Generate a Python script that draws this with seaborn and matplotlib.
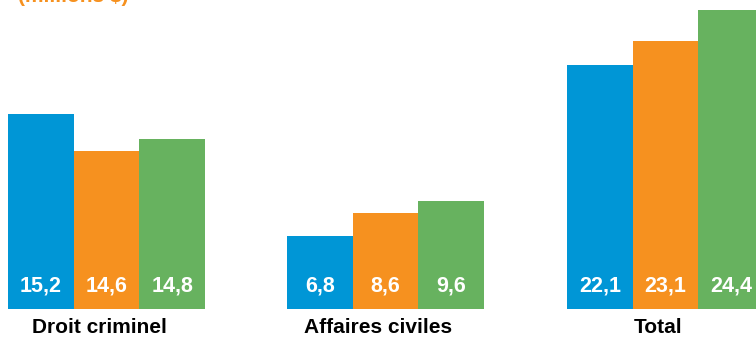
import matplotlib
matplotlib.use("Agg")
import matplotlib.pyplot as plt
import matplotlib.transforms as mtransforms
import pandas as pd
import seaborn as sns

# Data (millions $)
categories = ["Droit criminel", "Affaires civiles", "Total"]
series = ["année 1", "année 2", "année 3"]
values = {
    "Droit criminel": [15.2, 14.6, 14.8],
    "Affaires civiles": [6.8, 8.6, 9.6],
    "Total": [22.1, 23.1, 24.4],
}
unit_label = "(millions $)"

# Styling / layout
colors = ["#0096D6", "#F6911F", "#67B25F"]
W, H = 756, 337
group_left_px = [8, 287, 567]
bar_px = 65.7
baseline_px = 308.5
# value range shown on each panel's vertical axis
panel_ylims = [(12.03, 17.07), (0.995, 25.69), (11.87, 24.83)]

sns.set_theme(style="white")
plt.rcParams["font.family"] = ["Liberation Sans", "DejaVu Sans"]

fig = plt.figure(figsize=(W / 100, H / 100), dpi=100)
fig.patch.set_facecolor("white")

for i, cat in enumerate(categories):
    left = group_left_px[i] / W
    width = 3 * bar_px / W
    bottom = (H - baseline_px) / H
    ax = fig.add_axes([left, bottom, width, 1 - bottom])
    df = pd.DataFrame({"serie": series, "valeur": values[cat]})
    sns.barplot(data=df, x="serie", y="valeur", hue="serie", palette=colors,
                width=1.0, saturation=1, legend=False, ax=ax, linewidth=0)
    ax.set_xlim(-0.5, 2.5)
    ax.set_ylim(*panel_ylims[i])
    ax.set_axis_off()

    trans = mtransforms.blended_transform_factory(ax.transData, fig.transFigure)
    for j, v in enumerate(values[cat]):
        ax.text(j, (H - 285.7) / H, f"{v:.1f}".replace(".", ","),
                transform=trans, ha="center", va="center", color="white",
                fontsize=15.5, fontweight="bold", clip_on=False)
    ax.text(0.89, (H - 333) / H, cat, transform=trans, ha="center",
            va="baseline", color="black", fontsize=15, fontweight="bold",
            clip_on=False)

fig.text(18 / W, (H - 1.5) / H, unit_label, ha="left", va="baseline",
         color="#F6911F", fontsize=15, fontweight="bold")

fig.savefig("out.png", dpi=100, facecolor="white")
